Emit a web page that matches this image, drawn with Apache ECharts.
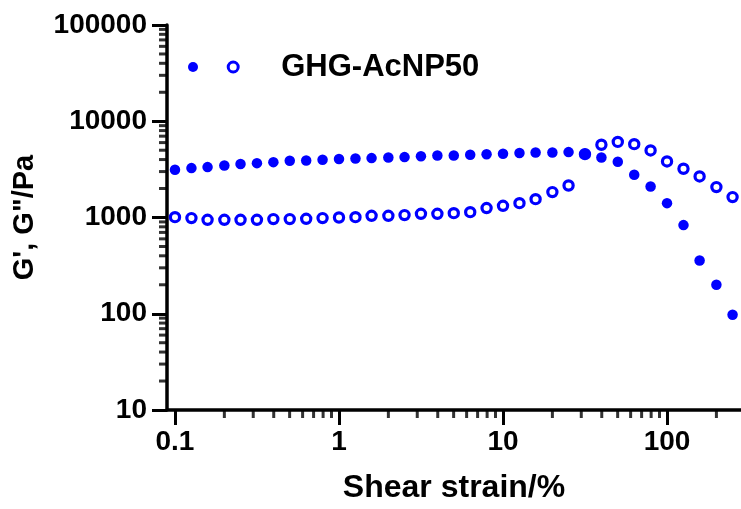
<!DOCTYPE html>
<html>
<head>
<meta charset="utf-8">
<title>GHG-AcNP50 strain sweep</title>
<script src="https://cdn.jsdelivr.net/npm/echarts@6/dist/echarts.min.js"></script>
<style>
  html, body { margin: 0; padding: 0; background: #fff; }
  #chart { width: 741px; height: 509px; }
</style>
</head>
<body>
<div id="chart"></div>
<script>
// Shear strain (%) — 10 points per decade
const strain = [0.1, 0.126, 0.158, 0.2, 0.251, 0.316, 0.398, 0.501, 0.631, 0.794,
  1, 1.26, 1.58, 2, 2.51, 3.16, 3.98, 5.01, 6.31, 7.94,
  10, 12.6, 15.8, 20, 25.1, 31.6, 39.8, 50.1, 63.1, 79.4,
  100, 126, 158, 200, 251];

// Storage modulus G' (Pa)
const storageModulus = [3130, 3260, 3340, 3470, 3590, 3670, 3760, 3880, 3910, 3980,
  4050, 4100, 4140, 4200, 4240, 4320, 4400, 4400, 4480, 4550,
  4590, 4670, 4740, 4740, 4780, 4600, 4200, 3800, 2780, 2100,
  1410, 834, 357, 200, 97.5];

// Loss modulus G'' (Pa)
const lossModulus = [1009, 986, 946, 946, 946, 946, 962, 962, 970, 986,
  1000, 1009, 1041, 1041, 1059, 1092, 1092, 1110, 1137, 1253,
  1324, 1410, 1552, 1836, 2150, 4550, 5700, 6100, 5780, 4970,
  3820, 3210, 2670, 2070, 1630];

// Axis ticks and labels
const xMajorTicks = [0.1, 1, 10, 100];
const xTickLabels = ['0.1', '1', '10', '100'];
const xMinorTicks = [0.2, 0.3, 0.4, 0.5, 0.6, 0.7, 0.8, 0.9,
  2, 3, 4, 5, 6, 7, 8, 9, 20, 30, 40, 50, 60, 70, 80, 90, 200];
const yMajorTicks = [10, 100, 1000, 10000, 100000];
const yTickLabels = ['10', '100', '1000', '10000', '100000'];
const yMinorTicks = [20, 30, 40, 50, 60, 70, 80, 90,
  200, 300, 400, 500, 600, 700, 800, 900,
  2000, 3000, 4000, 5000, 6000, 7000, 8000, 9000,
  20000, 30000, 40000, 50000, 60000, 70000, 80000, 90000];

const seriesNames = ["G'", 'G"'];
const legendLabel = 'GHG-AcNP50';
const xTitle = 'Shear strain/%';
const yTitle = 'G\', G"/Pa';

const BLUE = '#0000ff';
const FONT = '"Liberation Sans", Arial, Helvetica, sans-serif';

const X_MIN = 0.0894, X_MAX = 282.5;
const Y_MIN = 10, Y_MAX = 100000;

const AXIS_W = 3.5;      // axis line width
const TICK_W = 3;        // tick stroke width
const MAJOR_LEN = 15;
const MINOR_LEN = 8;

function pick(ticks, labels) {
  return function (v) {
    for (let i = 0; i < ticks.length; i++) {
      if (Math.abs(Math.log10(v) - Math.log10(ticks[i])) < 1e-6) return labels[i];
    }
    return '';
  };
}

function pairs(xs, ys) {
  return xs.map(function (x, i) { return [x, ys[i]]; });
}

const chart = echarts.init(document.getElementById('chart'), null, { renderer: 'canvas' });

const titleFont = { fontFamily: FONT, fontWeight: 'bold', color: '#000' };

chart.setOption({
  animation: false,
  backgroundColor: '#fff',
  textStyle: { fontFamily: FONT },
  grid: { left: 167, right: 0, top: 25, bottom: 99, containLabel: false },
  legend: [
    {
      data: [seriesNames[0]],
      left: 188, top: 62, padding: 0,
      itemWidth: 10, itemHeight: 10,
      formatter: function () { return ''; },
      itemStyle: { color: BLUE, borderWidth: 0 },
      selectedMode: false
    },
    {
      data: [seriesNames[1]],
      left: 226.7, top: 51.5, padding: 0,
      itemWidth: 10, itemHeight: 10,
      icon: 'circle',
      formatter: function () { return legendLabel; },
      itemStyle: { color: '#fff', borderColor: BLUE, borderWidth: 3 },
      textStyle: Object.assign({ fontSize: 31, lineHeight: 31, padding: [0, 0, 0, 38] }, titleFont),
      selectedMode: false
    }
  ],
  xAxis: {
    type: 'log',
    logBase: 10,
    min: X_MIN, max: X_MAX,
    position: 'bottom',
    name: xTitle,
    nameLocation: 'middle',
    nameGap: 62,
    nameTextStyle: Object.assign({ fontSize: 32 }, titleFont),
    splitLine: { show: false },
    axisLine: { show: true, lineStyle: { color: '#000', width: AXIS_W } },
    axisTick: { show: true, customValues: xMajorTicks, length: MAJOR_LEN, lineStyle: { color: '#000', width: TICK_W } },
    axisLabel: Object.assign({
      customValues: xMajorTicks,
      formatter: pick(xMajorTicks, xTickLabels),
      margin: 18,
      fontSize: 28
    }, titleFont)
  },
  yAxis: {
    type: 'log',
    logBase: 10,
    min: Y_MIN, max: Y_MAX,
    position: 'left',
    name: yTitle,
    nameLocation: 'middle',
    nameGap: 128,
    nameRotate: 90,
    nameTextStyle: Object.assign({ fontSize: 29 }, titleFont),
    splitLine: { show: false },
    axisLine: { show: true, lineStyle: { color: '#000', width: AXIS_W } },
    axisTick: { show: true, customValues: yMajorTicks, length: MAJOR_LEN, lineStyle: { color: '#000', width: TICK_W } },
    axisLabel: Object.assign({
      customValues: yMajorTicks,
      formatter: pick(yMajorTicks, yTickLabels),
      margin: 20,
      fontSize: 28
    }, titleFont)
  },
  series: [
    {
      name: seriesNames[1],
      type: 'scatter',
      symbol: 'circle',
      symbolSize: 9.2,
      itemStyle: { color: '#fff', borderColor: BLUE, borderWidth: 3.2, opacity: 1 },
      emphasis: { disabled: true },
      data: pairs(strain, lossModulus),
      z: 2
    },
    {
      name: seriesNames[0],
      type: 'scatter',
      symbol: 'circle',
      symbolSize: 10.5,
      itemStyle: { color: BLUE, opacity: 1 },
      emphasis: { disabled: true },
      data: pairs(strain, storageModulus),
      z: 3
    },
    // Minor ticks below the strain axis, placed on the log scale
    {
      name: 'x minor ticks',
      type: 'scatter',
      silent: true,
      clip: false,
      symbol: 'rect',
      symbolSize: [TICK_W, MINOR_LEN],
      symbolOffset: [0, MINOR_LEN / 2],
      itemStyle: { color: '#000' },
      emphasis: { disabled: true },
      data: xMinorTicks.map(function (v) { return [v, Y_MIN]; }),
      z: 1
    },
    // Minor ticks left of the modulus axis
    {
      name: 'y minor ticks',
      type: 'scatter',
      silent: true,
      clip: false,
      symbol: 'rect',
      symbolSize: [MINOR_LEN, TICK_W],
      symbolOffset: [-MINOR_LEN / 2, 0],
      itemStyle: { color: '#000' },
      emphasis: { disabled: true },
      data: yMinorTicks.map(function (v) { return [X_MIN, v]; }),
      z: 1
    }
  ]
});
</script>
</body>
</html>
